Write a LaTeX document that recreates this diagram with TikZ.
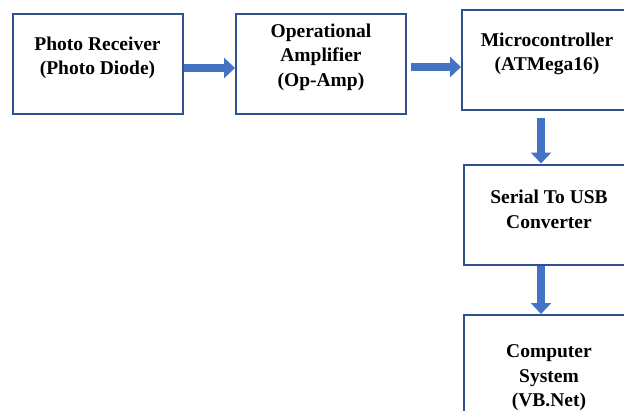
\documentclass[tikz,border=0pt]{standalone}
\usepackage{fontspec}
\setmainfont{Liberation Serif}
\usetikzlibrary{arrows.meta}

\definecolor{boxblue}{HTML}{2F528F}
\definecolor{arrowblue}{HTML}{4472C4}

\begin{document}
\begin{tikzpicture}[x=1pt,y=-1pt]
		\useasboundingbox (0,0) rectangle (624,410);

		\tikzset{BlockStyle/.style = {draw = boxblue, line width = 2pt, fill = white,
				minimum width = 170pt, minimum height = 100pt, inner sep = 0pt}}
		\tikzset{TextStyle/.style = {align = center, text = black,
				font = \fontsize{19.5}{24.5}\selectfont\bfseries}}
		\tikzset{FlowStyle/.style = {draw = arrowblue, fill = arrowblue, line width = 8pt,
				-{Triangle[length = 11pt, width = 20pt]}}}

		\node[BlockStyle, label = {[TextStyle, yshift = 6pt]center:Photo Receiver\\(Photo Diode)}] (PD) at (97.5,64) {};
		\node[BlockStyle, label = {[TextStyle, yshift = 7pt]center:Operational\\Amplifier\\(Op-Amp)}] (OA) at (321,64) {};
		\node[BlockStyle, label = {[TextStyle, yshift = 6pt]center:Microcontroller\\(ATMega16)}] (MC) at (547,60) {};
		\node[BlockStyle, label = {[TextStyle, yshift = 5pt]center:Serial To USB\\Converter}] (USB) at (549,214.5) {};
		\node[BlockStyle, minimum height = 130pt, label = {[TextStyle, yshift = 2pt]center:Computer\\System\\(VB.Net)}] (PC) at (549,380) {};

		\draw[FlowStyle] ([yshift=-4pt]PD.east) -- ([yshift=-4pt]OA.west);
		\draw[FlowStyle] ([xshift=4pt,yshift=-3pt]OA.east) -- ([yshift=-7pt]MC.west);
		\draw[FlowStyle] ([xshift=-6pt,yshift=-7pt]MC.south) -- ([xshift=-8pt]USB.north);
		\draw[FlowStyle] ([xshift=-8pt]USB.south) -- ([xshift=-8pt]PC.north);
\end{tikzpicture}
\end{document}
